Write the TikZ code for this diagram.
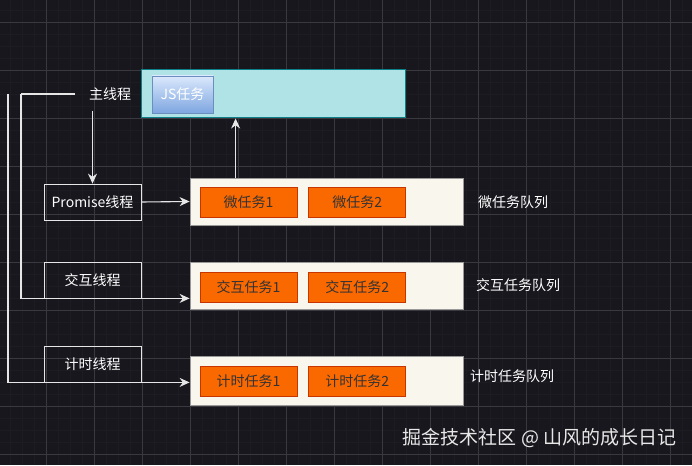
\documentclass[tikz,border=0pt]{standalone}
\usepackage{fontspec}
\setmainfont{Noto Sans CJK SC}
\usetikzlibrary{arrows.meta,positioning}
\usetikzlibrary{calc}
\definecolor{dark_bg}{HTML}{18171D}
\definecolor{grid_major}{HTML}{3A3940}
\definecolor{grid_minor}{HTML}{1D1C22}
\definecolor{js_cyan}{HTML}{B0E3E6}
\definecolor{js_teal}{HTML}{0E8088}
\definecolor{task_blue}{HTML}{DAE8FC}
\definecolor{task_blue2}{HTML}{7EA6E0}
\definecolor{task_border}{HTML}{6C8EBF}
\definecolor{queue_cream}{HTML}{F9F7ED}
\definecolor{task_orange}{HTML}{FA6800}
\definecolor{task_rust}{HTML}{C73500}
\definecolor{line_white}{HTML}{E6E6E6}

\begin{document}
\begin{tikzpicture}[
	    x=1pt, y=-1pt,
	    onlytext/.style={align=center, text=white, font=\fontsize{14}{16}\selectfont},
	    threadbox/.style={rectangle, draw=line_white, line width=0.8pt, inner sep=0pt, minimum width=97pt, minimum height=36pt, text=white, font=\fontsize{14}{16}\selectfont},
	    queuebox/.style={rectangle, draw=gray!80, fill=queue_cream, line width=0.8pt, inner sep=0pt, minimum width=273pt},
	    taskbox/.style={rectangle, draw=task_rust, fill=task_orange, line width=0.8pt, inner sep=0pt, minimum width=97pt, minimum height=30pt, text=black!80, font=\fontsize{14}{16}\selectfont},
	    normalline/.style={-{Stealth[length=10pt,width=9pt]}, line width=1.1pt, line_white},
	    plainline/.style={line width=1.1pt, line_white},
	]
		\useasboundingbox (0,0) rectangle (692,465);
		\fill[dark_bg] (0,0) rectangle (692,465);
		\foreach \gx in {10,22,...,682} \draw[grid_minor, line width=0.6pt] (\gx,0) -- (\gx,465);
		\foreach \gy in {10,22,...,454} \draw[grid_minor, line width=0.6pt] (0,\gy) -- (692,\gy);
		\foreach \gx in {46,94,...,670} \draw[grid_major, line width=0.8pt] (\gx,0) -- (\gx,465);
		\foreach \gy in {22,70,...,454} \draw[grid_major, line width=0.8pt] (0,\gy) -- (692,\gy);

		\node[rectangle, draw=js_teal, fill=js_cyan, line width=1pt, inner sep=0pt, minimum width=264pt, minimum height=48pt] (jsqueue) at (273,94) {};
		\node[rectangle, draw=task_border, top color=task_blue, bottom color=task_blue2, line width=0.8pt, inner sep=0pt, minimum width=61pt, minimum height=37pt, text=white, font=\fontsize{14}{16}\selectfont] (jstask) at (182.5,94.5) {JS任务};
		\node[onlytext] (mainthread) at (110,94) {主线程};

		\node[threadbox] (promise) at (92.5,202) {Promise线程};
		\node[queuebox, minimum height=47pt] (microqueue) at (326.5,201.5) {};
		\node[taskbox] (micro1) at (248.5,202) {微任务1};
		\node[taskbox, right=11pt of micro1] (micro2) {微任务2};
		\node[onlytext] (microlabel) at (513,202) {微任务队列};

		\node[threadbox] (interact) at (92.5,280) {交互线程};
		\node[queuebox, minimum height=47pt] (interqueue) at (326.5,285.5) {};
		\node[taskbox] (inter1) at (248.5,287) {交互任务1};
		\node[taskbox, right=11pt of inter1] (inter2) {交互任务2};
		\node[onlytext] (interlabel) at (518,285) {交互任务队列};

		\node[threadbox] (timer) at (92.5,364) {计时线程};
		\node[queuebox, minimum height=49pt] (timerqueue) at (326.5,380.5) {};
		\node[taskbox] (timer1) at (248.5,381.5) {计时任务1};
		\node[taskbox, right=11pt of timer1] (timer2) {计时任务2};
		\node[onlytext] (timerlabel) at (512,376) {计时任务队列};

		\node[text=white!82!gray, font=\fontsize{19}{21}\selectfont, anchor=east] (watermark) at (680,438) {掘金技术社区 @ 山风的成长日记};

		\coordinate (innerbend) at (21,94);
		\coordinate (outertop) at (8,94);
		\coordinate (upstart) at ($(microqueue.north west)+(46,0)$);

		\draw [plainline] ([xshift=-10pt]mainthread.west) -- (innerbend);
		\draw [normalline] (innerbend) |- (interact.south -| interqueue.west);
		\draw [normalline] (outertop) |- (timer.south -| timerqueue.west);
		\draw [normalline] ($(mainthread.south -| promise.north)+(0,7)$) -- (promise.north);
		\draw [normalline] (promise.east) -- (microqueue.west);
		\draw [normalline] (upstart) -- (upstart |- jsqueue.south);
	\end{tikzpicture}
\end{document}
